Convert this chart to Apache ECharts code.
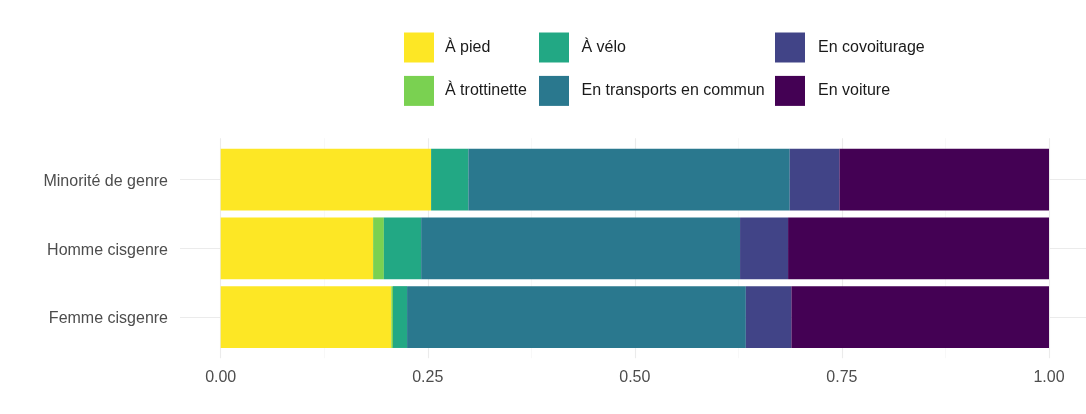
<!DOCTYPE html>
<html>
<head>
<meta charset="utf-8">
<script src="https://cdn.jsdelivr.net/npm/echarts@6/dist/echarts.min.js"></script>
<style>
  html, body { margin: 0; padding: 0; background: #fff; }
  #chart { width: 1086px; height: 414px; }
</style>
</head>
<body>
<div id="chart"></div>
<script>
// categories, bottom to top (ECharts draws the first one at the bottom)
var groupes = ['Femme cisgenre', 'Homme cisgenre', 'Minorité de genre'];

// share of each mode, same order as groupes
var aPied        = [0.206, 0.184, 0.254];
var aTrottinette = [0.002, 0.013, 0.000];
var aVelo        = [0.017, 0.045, 0.045];
var enTransports = [0.409, 0.385, 0.388];
var enCovoit     = [0.055, 0.058, 0.060];
var enVoiture    = [0.311, 0.315, 0.253];

var modes = [
    {name: 'À pied', data: aPied, color: '#FDE725'},
    {name: 'À trottinette', data: aTrottinette, color: '#7AD151'},
    {name: 'À vélo', data: aVelo, color: '#22A884'},
    {name: 'En transports en commun', data: enTransports, color: '#2A788E'},
    {name: 'En covoiturage', data: enCovoit, color: '#414487'},
    {name: 'En voiture', data: enVoiture, color: '#440154'}
];

var myChart = echarts.init(document.getElementById('chart'), null, {renderer: 'canvas'});

var font = 'Liberation Sans, Arial, sans-serif';
var gridColor = '#ebebeb';

function legendCol(left, names, textGap) {
    return {
        orient: 'vertical',
        left: left,
        top: 32.5,
        padding: 0,
        itemWidth: 30,
        itemHeight: 30,
        itemGap: 13.4,
        icon: 'rect',
        selectedMode: false,
        data: names,
        textStyle: {
            fontFamily: font,
            fontSize: 16,
            color: '#1a1a1a',
            padding: [0, 0, 0, textGap]
        }
    };
}

var option = {
    animation: false,
    backgroundColor: '#ffffff',
    legend: [
        legendCol(404, ['À pied', 'À trottinette'], 6),
        legendCol(539, ['À vélo', 'En transports en commun'], 7.5),
        legendCol(775, ['En covoiturage', 'En voiture'], 8)
    ],
    grid: [
        // bars
        {left: 220.7, right: 37, top: 145.3, bottom: 62.6},
        // wider panel for the horizontal grid lines
        {left: 180, right: 0, top: 145.3, bottom: 62.6},
        // category labels, nudged down a little
        {left: 180, right: 0, top: 147.3, bottom: 60.6}
    ],
    xAxis: [
        {
            type: 'value',
            gridIndex: 0,
            min: 0,
            max: 1,
            interval: 0.25,
            offset: 6.8,
            axisLine: {show: false},
            splitLine: {show: false},
            axisTick: {
                show: true,
                inside: true,
                length: 220,
                lineStyle: {color: gridColor, width: 1.1}
            },
            minorTick: {
                show: true,
                splitNumber: 2,
                length: 220,
                lineStyle: {color: '#f3f3f3', width: 0.6}
            },
            axisLabel: {
                margin: 11,
                fontFamily: font,
                fontSize: 16,
                color: '#4d4d4d',
                formatter: function (v) { return v.toFixed(2); }
            }
        },
        {type: 'value', gridIndex: 1, min: 0, max: 1, show: false},
        {type: 'value', gridIndex: 2, min: 0, max: 1, show: false}
    ],
    yAxis: [
        {
            type: 'category',
            gridIndex: 0,
            data: groupes,
            show: false
        },
        {
            type: 'category',
            gridIndex: 1,
            data: groupes,
            axisLine: {show: false},
            splitLine: {show: false},
            axisLabel: {show: false},
            axisTick: {
                show: true,
                inside: true,
                alignWithLabel: true,
                length: 906,
                lineStyle: {color: gridColor, width: 1.1}
            }
        },
        {
            type: 'category',
            gridIndex: 2,
            data: groupes,
            axisLine: {show: false},
            splitLine: {show: false},
            axisTick: {show: false},
            axisLabel: {
                margin: 12,
                fontFamily: font,
                fontSize: 16,
                color: '#4d4d4d'
            }
        }
    ],
    series: modes.map(function (m) {
        return {
            name: m.name,
            type: 'bar',
            stack: 'total',
            xAxisIndex: 0,
            yAxisIndex: 0,
            barCategoryGap: '10%',
            itemStyle: {color: m.color},
            emphasis: {disabled: true},
            data: m.data
        };
    })
};

myChart.setOption(option);
</script>
</body>
</html>
